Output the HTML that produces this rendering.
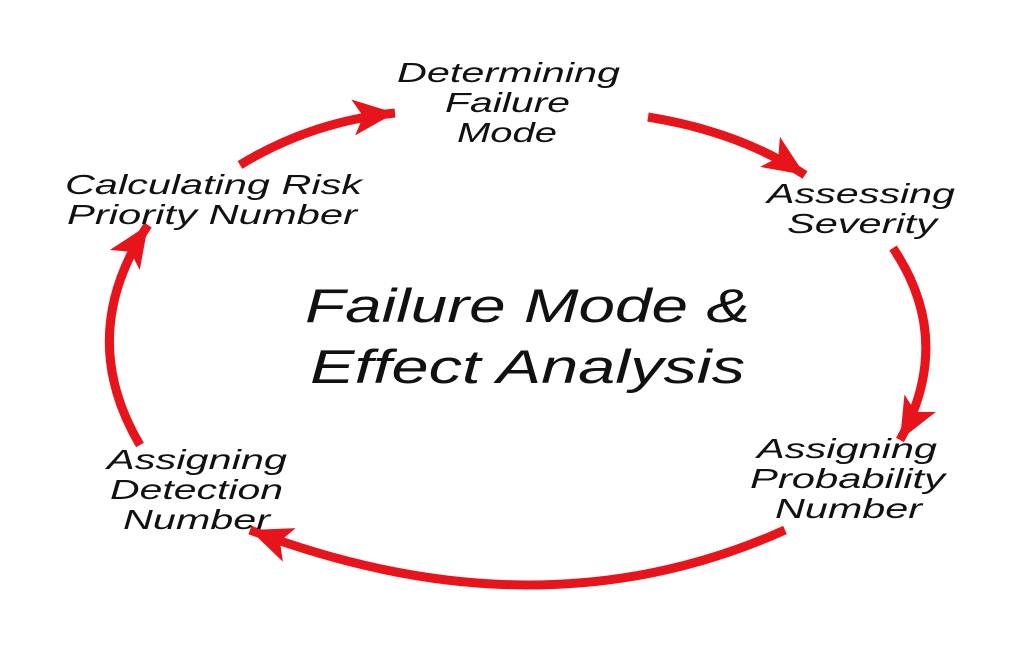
<!DOCTYPE html>
<html><head><style>
html,body{margin:0;padding:0;background:#fff;}
svg{display:block}
text{font-family:"Liberation Sans",sans-serif;font-style:italic;fill:#111}
</style></head><body>
<svg width="1022" height="647" viewBox="0 0 1022 647" xmlns="http://www.w3.org/2000/svg">
<defs>
<marker id="ah" markerUnits="userSpaceOnUse" markerWidth="60" markerHeight="60" refX="42" refY="22" orient="auto">
<path d="M0,4 L42,22 L0,40 L10,22 Z" fill="#e8141b"/>
</marker>
</defs>
<g fill="none" stroke="#e8141b" stroke-width="9" stroke-linecap="butt">
<path d="M240,165 Q310,122 395,113" marker-end="url(#ah)"/>
<path d="M648,117 Q740,132 805,175" marker-end="url(#ah)"/>
<path d="M893,248 Q955,340 900,440" marker-end="url(#ah)"/>
<path d="M785,530 Q540,640 250,530" marker-end="url(#ah)"/>
<path d="M140,445 Q75,335 148,225" marker-end="url(#ah)"/>
</g>
<g font-size="28">
<text x="397" y="82" textLength="223" lengthAdjust="spacingAndGlyphs">Determining</text>
<text x="445" y="112" textLength="125" lengthAdjust="spacingAndGlyphs">Failure</text>
<text x="457" y="142" textLength="100" lengthAdjust="spacingAndGlyphs">Mode</text>
<text x="65" y="194" textLength="297" lengthAdjust="spacingAndGlyphs">Calculating Risk</text>
<text x="67" y="224" textLength="290" lengthAdjust="spacingAndGlyphs">Priority Number</text>
<text x="767" y="203" textLength="188" lengthAdjust="spacingAndGlyphs">Assessing</text>
<text x="787" y="233" textLength="150" lengthAdjust="spacingAndGlyphs">Severity</text>
<text x="757" y="458" textLength="180" lengthAdjust="spacingAndGlyphs">Assigning</text>
<text x="750" y="488" textLength="195" lengthAdjust="spacingAndGlyphs">Probability</text>
<text x="775" y="518" textLength="147" lengthAdjust="spacingAndGlyphs">Number</text>
<text x="107" y="469" textLength="180" lengthAdjust="spacingAndGlyphs">Assigning</text>
<text x="110" y="499" textLength="173" lengthAdjust="spacingAndGlyphs">Detection</text>
<text x="123" y="529" textLength="147" lengthAdjust="spacingAndGlyphs">Number</text>
</g>
<g font-size="47">
<text x="305" y="322" textLength="445" lengthAdjust="spacingAndGlyphs">Failure Mode &amp;</text>
<text x="310" y="383" textLength="435" lengthAdjust="spacingAndGlyphs">Effect Analysis</text>
</g>
</svg>
</body></html>
